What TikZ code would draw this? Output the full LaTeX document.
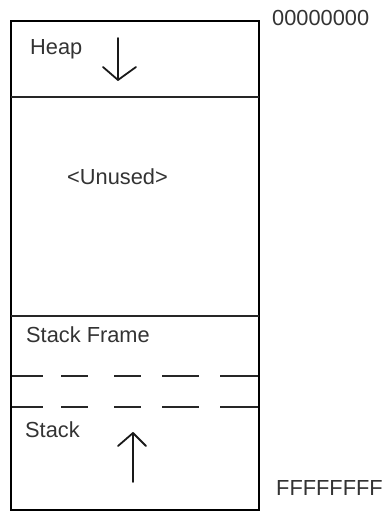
\documentclass[tikz,border=0pt]{standalone}
\usepackage{fontspec}
\setmainfont{Liberation Sans}
\begin{document}
\begin{tikzpicture}[x=1pt,y=-1pt,
  wall/.style={line width=2.6pt,black},
  divider/.style={line width=2pt,black!85},
  dashdiv/.style={line width=2pt,black!85},
  growth/.style={line width=1.8pt,black!90,line cap=round,line join=round},
  lbl/.style={inner sep=0pt,font=\fontsize{21.8}{22}\selectfont,text=black!80}]
\useasboundingbox (0,0) rectangle (388,513);
% memory block outline and solid dividers
\draw[wall] (11,21) rectangle (259,510);
\draw[divider] (11,97) -- (259,97);
\draw[divider] (11,316) -- (259,316);
% dashed frame boundaries
\foreach \y in {376,407}{
  \foreach \a/\b in {12/43,61/88,114/141,162/199,220/258}
    \draw[dashdiv] (\a,\y) -- (\b,\y);
}
% labels
\node[lbl,anchor=base west] (heap) at (30,55) {Heap};
\node[lbl,anchor=base west] (unused) at (67,184) {<Unused>};
\node[lbl,anchor=base west] (frame) at (26,342) {Stack Frame};
\node[lbl,anchor=base west] (stack) at (25,437) {Stack};
\node[lbl,anchor=base west] (lo) at (272,26) {00000000};
\node[lbl,anchor=base west] (hi) at (276,495) {FFFFFFFF};
% growth directions
\coordinate (hd) at (118,80);
\draw[growth] (118,38) -- (hd);
\draw[growth] (103,67) -- (hd) -- (136,67);
\coordinate (su) at (133,433);
\draw[growth] (133,482) -- (su);
\draw[growth] (118,446) -- (su) -- (146,446);
\end{tikzpicture}
\end{document}
